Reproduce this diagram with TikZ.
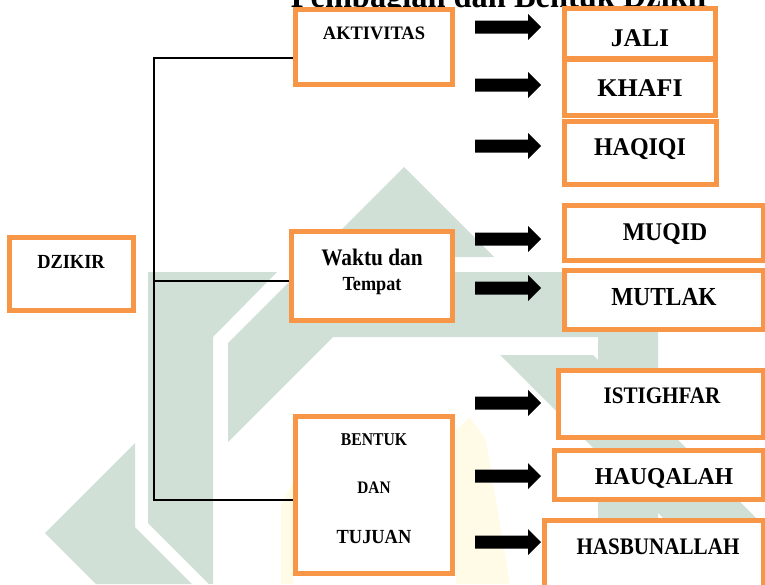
\documentclass[tikz,border=0pt]{standalone}
\usepackage{fontspec}
\setmainfont{Liberation Serif}
\usepackage{graphicx}
\definecolor{orng}{RGB}{247,150,70}
\definecolor{wmgreen}{RGB}{208,224,215}
\definecolor{wmyellow}{RGB}{255,251,231}
\newcommand{\lbl}[3]{\scalebox{#2}[1]{\fontsize{#1}{#1}\selectfont\bfseries #3}}
\begin{document}
\begin{tikzpicture}[x=1pt,y=-1pt,
  box/.style={draw=orng, line width=5pt, fill=white, inner sep=0pt, rectangle},
  txt/.style={anchor=base, inner sep=0pt},
  conn/.style={line width=1.5pt, draw=black},
  wm/.style={fill=wmgreen, draw=none},
  wmy/.style={fill=wmyellow, draw=none},
  blockarrow/.pic={\fill[black] (-33,-6.5) -- (20,-6.5) -- (20,-13) -- (33,0) -- (20,13) -- (20,6.5) -- (-33,6.5) -- cycle;}]
\useasboundingbox (0,0) rectangle (765,584);
\clip (0,0) rectangle (765,584);
% watermark
\fill[wm] (404,167) -- (494,257) -- (450,257) -- (450,272) -- (658,272) -- (658,584) -- (598,584) -- (598,337) -- (333,337) -- (228,442) -- (228,343) -- cycle;
\fill[wm] (500,355) -- (593,355) -- (822,584) -- (729,584) -- cycle;
\fill[wm] (148,272) -- (277,272) -- (213,337) -- (213,584) -- (209,584) -- (148,523) -- cycle;
\fill[wm] (45,533) -- (135,443) -- (135,527) -- (192,584) -- (96,584) -- cycle;
\fill[wmy] (456,584) -- (456,430) -- (470,417) -- (486,440) -- (510,584) -- cycle;
\fill[wmy] (281,584) -- (281,505) -- (293,482) -- (293,584) -- cycle;
% title (cut off at the top)
\node[txt] (title) at (501,7) {\lbl{36}{.9}{Pembagian dan Bentuk Dzikir}};
% boxes
\node[box, minimum width=157pt, minimum height=75pt] (akt) at (374,47) {};
\node[box, minimum width=124pt, minimum height=73pt] (dz) at (71.5,274) {};
\node[box, minimum width=161pt, minimum height=89pt] (wak) at (372,276) {};
\node[box, minimum width=157pt, minimum height=157pt] (ben) at (374,495) {};
\node[box, minimum width=151pt, minimum height=50pt] (jali) at (640,33.5) {};
\node[box, minimum width=151pt, minimum height=56pt] (khafi) at (640,87.5) {};
\node[box, minimum width=152pt, minimum height=63pt] (haqiqi) at (640.5,153) {};
\node[box, minimum width=199pt, minimum height=55pt] (muqid) at (664,233) {};
\node[box, minimum width=199pt, minimum height=59pt] (mutlak) at (664,300) {};
\node[box, minimum width=205pt, minimum height=67pt] (istighfar) at (661,404) {};
\node[box, minimum width=209pt, minimum height=49pt] (hauqalah) at (659,475) {};
\node[box, minimum width=219pt, minimum height=69pt] (hasbun) at (654,555) {};
% connectors
\coordinate (tr1) at (154,58);
\coordinate (tr2) at (154,281);
\coordinate (tr3) at (154,500);
\draw[conn] (tr1 -| akt.west) -- (tr1) -- (tr3) -- (tr3 -| ben.west);
\draw[conn] (tr2) -- (tr2 -| wak.west);
% texts
\node[txt] (t-akt) at (374,39.2) {\lbl{19}{.97}{AKTIVITAS}};
\node[txt] (t-dz) at (71,268) {\lbl{20}{.92}{DZIKIR}};
\node[txt] (t-wak1) at (372,265) {\lbl{23.7}{.9}{Waktu dan}};
\node[txt] (t-wak2) at (372,290) {\lbl{20}{.91}{Tempat}};
\node[txt] (t-ben1) at (374,445) {\lbl{18}{.87}{BENTUK}};
\node[txt] (t-ben2) at (374,493) {\lbl{17.6}{.87}{DAN}};
\node[txt] (t-ben3) at (374,543) {\lbl{20}{.92}{TUJUAN}};
\node[txt] (t-jali) at (640,46.4) {\lbl{25.5}{1}{JALI}};
\node[txt] (t-khafi) at (640,96.9) {\lbl{25.5}{1.02}{KHAFI}};
\node[txt] (t-haqiqi) at (640,155.4) {\lbl{25.5}{.94}{HAQIQI}};
\node[txt] (t-muqid) at (665,240.4) {\lbl{25.5}{.93}{MUQID}};
\node[txt] (t-mutlak) at (664,305.5) {\lbl{26}{.9}{MUTLAK}};
\node[txt] (t-istighfar) at (662,403.8) {\lbl{23.7}{.89}{ISTIGHFAR}};
\node[txt] (t-hauqalah) at (664,484.4) {\lbl{24.2}{.97}{HAUQALAH}};
\node[txt] (t-hasbun) at (658,554.8) {\lbl{23.7}{.89}{HASBUNALLAH}};
% block arrows
\pic (a1) at (508,27) {blockarrow};
\pic (a2) at (508,85) {blockarrow};
\pic (a3) at (508,146) {blockarrow};
\pic (a4) at (508,239) {blockarrow};
\pic (a5) at (508,288) {blockarrow};
\pic (a6) at (508,403) {blockarrow};
\pic (a7) at (508,476) {blockarrow};
\pic (a8) at (508,542) {blockarrow};
\end{tikzpicture}
\end{document}
